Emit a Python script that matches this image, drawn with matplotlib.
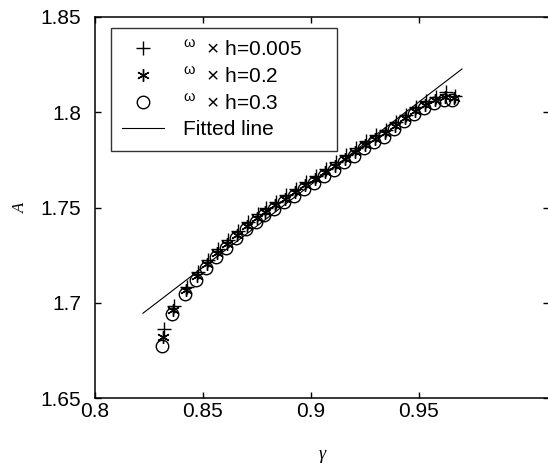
import matplotlib
matplotlib.use('Agg')
import matplotlib.pyplot as plt

# -------------------------------------------------------------------------------------------------------------------- #
# data
# -------------------------------------------------------------------------------------------------------------------- #
gamma_h0005 = [0.8318, 0.8364, 0.8424, 0.8475, 0.8522, 0.8568, 0.8614, 0.8660, 0.8707, 0.8753,
               0.8790, 0.8836, 0.8883, 0.8929, 0.8975, 0.9022, 0.9068, 0.9114, 0.9160, 0.9207,
               0.9253, 0.9299, 0.9346, 0.9392, 0.9438, 0.9484, 0.9531, 0.9577, 0.9623, 0.9667]
A_h0005 = [1.6860, 1.6985, 1.7085, 1.7160, 1.7223, 1.7280, 1.7328, 1.7376, 1.7423, 1.7464,
           1.7499, 1.7531, 1.7567, 1.7599, 1.7636, 1.7667, 1.7704, 1.7737, 1.7775, 1.7810,
           1.7850, 1.7880, 1.7908, 1.7948, 1.7988, 1.8025, 1.8057, 1.8082, 1.8108, 1.8085]
gamma_h02 = [0.8315, 0.8361, 0.8421, 0.8472, 0.8519, 0.8565, 0.8611, 0.8657, 0.8704, 0.8750,
             0.8787, 0.8833, 0.8880, 0.8926, 0.8972, 0.9019, 0.9065, 0.9111, 0.9157, 0.9204,
             0.9250, 0.9296, 0.9343, 0.9389, 0.9435, 0.9481, 0.9528, 0.9574, 0.9620, 0.9660]
A_h02 = [1.6818, 1.6962, 1.7065, 1.7140, 1.7203, 1.7260, 1.7308, 1.7356, 1.7403, 1.7444,
         1.7479, 1.7511, 1.7547, 1.7579, 1.7616, 1.7647, 1.7684, 1.7717, 1.7755, 1.7790,
         1.7830, 1.7860, 1.7890, 1.7930, 1.7970, 1.8008, 1.8040, 1.8066, 1.8078, 1.8075]
gamma_h03 = [0.8312, 0.8358, 0.8418, 0.8469, 0.8516, 0.8562, 0.8608, 0.8654, 0.8701, 0.8747,
             0.8784, 0.8830, 0.8877, 0.8923, 0.8969, 0.9016, 0.9062, 0.9108, 0.9154, 0.9201,
             0.9247, 0.9293, 0.9340, 0.9386, 0.9432, 0.9478, 0.9525, 0.9571, 0.9617, 0.9655]
A_h03 = [1.6775, 1.6942, 1.7047, 1.7122, 1.7185, 1.7242, 1.7290, 1.7338, 1.7385, 1.7426,
         1.7461, 1.7493, 1.7529, 1.7561, 1.7598, 1.7629, 1.7666, 1.7699, 1.7737, 1.7772,
         1.7812, 1.7842, 1.7872, 1.7912, 1.7952, 1.7990, 1.8022, 1.8050, 1.8062, 1.8062]
fit_gamma = [0.8222, 0.9699]
fit_A = [1.6945, 1.8227]

labels = [r'$^{\omega}$  × h=0.005     ', r'$^{\omega}$  × h=0.2',
          r'$^{\omega}$  × h=0.3', 'Fitted line']
xticks = [0.8, 0.85, 0.9, 0.95]
xtick_labels = ['0.8', '0.85', '0.9', '0.95']
yticks = [1.65, 1.7, 1.75, 1.8, 1.85]
ytick_labels = ['1.65', '1.7', '1.75', '1.8', '1.85']

# -------------------------------------------------------------------------------------------------------------------- #
# figure
# -------------------------------------------------------------------------------------------------------------------- #
plt.rcParams['font.family'] = ['Liberation Sans', 'DejaVu Sans']
plt.rcParams['mathtext.fontset'] = 'custom'
plt.rcParams['mathtext.rm'] = 'Liberation Sans'
plt.rcParams['mathtext.it'] = 'Liberation Sans'

fig = plt.figure(figsize=(5.48, 4.72), dpi=100)
ax = fig.add_axes([95 / 548, 74 / 472, 454 / 548, 381 / 472])

ms = 9
ax.plot(fit_gamma, fit_A, color='black', lw=0.8)
ax.plot(gamma_h0005, A_h0005, ls='none', marker='+', ms=ms + 0.5, mec='black', mew=1.0)
ax.plot(gamma_h02, A_h02, ls='none', marker=(6, 2, 0), ms=ms, mec='black', mew=1.0)
ax.plot(gamma_h03, A_h03, ls='none', marker='o', ms=ms, mfc='none', mec='black', mew=1.0)

ax.set_xlim(0.8, 1.0102)
ax.set_ylim(1.65, 1.85)
ax.set_xticks(xticks)
ax.set_xticklabels(xtick_labels)
ax.set_yticks(yticks)
ax.set_yticklabels(ytick_labels)
ax.tick_params(direction='in', top=True, right=True, length=4, width=1, labelsize=15, pad=3)
ax.tick_params(axis='y', pad=10)
for s in ax.spines.values():
    s.set_linewidth(1.1)

ax.set_xlabel('γ', fontsize=13, family='Liberation Serif', style='italic', labelpad=18)
ax.set_ylabel('A', fontsize=12, family='Liberation Serif', style='italic', labelpad=8)

# legend handles: the three marker series, then the fitted line
h = ax.get_lines()
leg = ax.legend([h[1], h[2], h[3], h[0]], labels, loc='upper left', bbox_to_anchor=(0.035, 0.971),
                borderaxespad=0, fontsize=15, frameon=True, fancybox=False, edgecolor='black',
                handlelength=2.0, handletextpad=0.9, labelspacing=0.33, borderpad=0.55)
leg.get_frame().set_linewidth(1.0)

fig.savefig('out.png', dpi=100)
